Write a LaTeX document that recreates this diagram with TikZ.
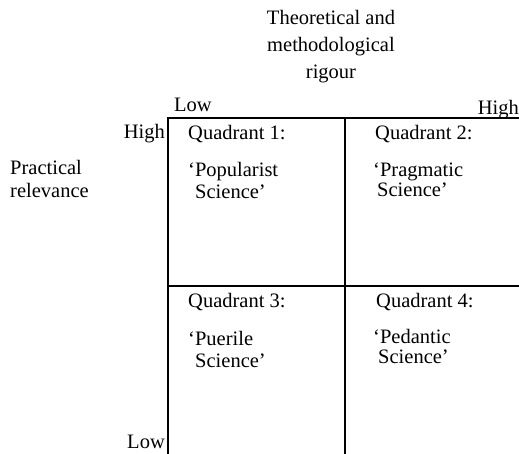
\documentclass[tikz,border=0pt]{standalone}
\usepackage{fontspec}
\setmainfont{Liberation Serif}
\begin{document}
\begin{tikzpicture}[x=1pt,y=-1pt,
  lbl/.style={inner sep=0pt,font=\fontsize{20.5}{22}\selectfont},
  gridline/.style={line width=2pt,line cap=rect}]
\useasboundingbox (0,0) rectangle (519,453);
% grid
\coordinate (tl) at (168,118);
\coordinate (tr) at (519,118);
\coordinate (bl) at (168,453);
\coordinate (mt) at (344.5,118);
\coordinate (mb) at (344.5,453);
\coordinate (ml) at (168,286);
\coordinate (mr) at (519,286);
\draw[gridline] (tr) -- (tl) -- (bl);
\draw[gridline] (mt) -- (mb);
\draw[gridline] (ml) -- (mr);
% axis labels
\node[lbl,anchor=base] (theo1) at (331,24) {Theoretical and};
\node[lbl,anchor=base] (theo2) at (331,51) {methodological};
\node[lbl,anchor=base] (theo3) at (331,78) {rigour};
\node[lbl,anchor=base west] (lowx) at (174,111) {Low};
\node[lbl,anchor=base east] (highx) at (519,114) {High};
\node[lbl,anchor=base east] (highy) at (165,138) {High};
\node[lbl,anchor=base east] (lowy) at (165,448) {Low};
\node[lbl,anchor=base west] (prac1) at (10,174) {Practical};
\node[lbl,anchor=base west] (prac2) at (10,197) {relevance};
% quadrants
\node[lbl,anchor=base west] (q1) at (188,139) {Quadrant 1:};
\node[lbl,anchor=base west] (q1a) at (188,176) {‘Popularist};
\node[lbl,anchor=base west] (q1b) at (195,198) {Science’};
\node[lbl,anchor=base west] (q2) at (375,139) {Quadrant 2:};
\node[lbl,anchor=base west] (q2a) at (373,176) {‘Pragmatic};
\node[lbl,anchor=base west] (q2b) at (377,196) {Science’};
\node[lbl,anchor=base west] (q3) at (188,307) {Quadrant 3:};
\node[lbl,anchor=base west] (q3a) at (188,345) {‘Puerile};
\node[lbl,anchor=base west] (q3b) at (195,367) {Science’};
\node[lbl,anchor=base west] (q4) at (376,307) {Quadrant 4:};
\node[lbl,anchor=base west] (q4a) at (373,343) {‘Pedantic};
\node[lbl,anchor=base west] (q4b) at (378,363) {Science’};
\end{tikzpicture}
\end{document}
